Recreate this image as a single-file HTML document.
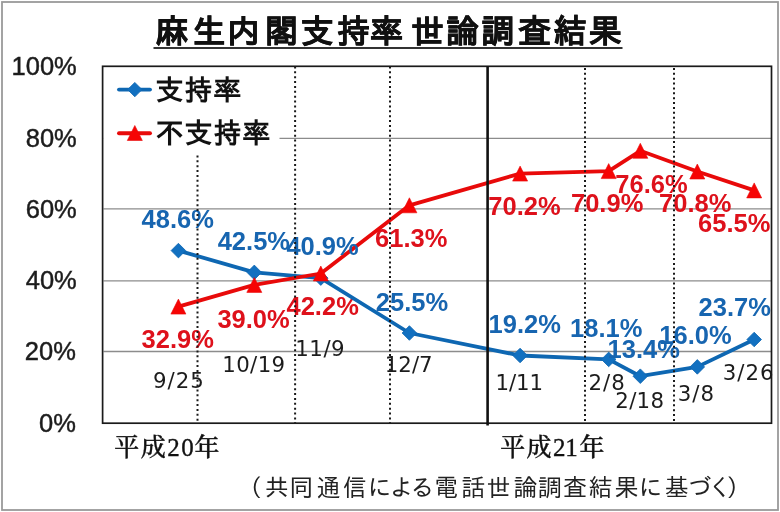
<!DOCTYPE html><html><head><meta charset="utf-8"><style>html,body{margin:0;padding:0;background:#fff}svg{display:block}.lab{font-family:"Liberation Sans",Arial,sans-serif;font-weight:bold;font-size:25.5px}.dt{font-family:"DejaVu Sans",sans-serif;font-size:21.3px;fill:#1c1c1c;letter-spacing:1px}.ax{font-family:"Liberation Sans",Arial,sans-serif;font-size:25.5px;fill:#1c1c1c;stroke:#1c1c1c;stroke-width:0.45px}.mc{font-family:"Liberation Serif","Noto Serif CJK JP","Noto Serif CJK SC",serif;font-weight:500;font-size:25px;stroke:#111;stroke-width:0.35px}.jp{font-family:"Liberation Sans","IPAGothic","Noto Sans CJK JP",sans-serif}</style></head><body>
<svg width="780" height="512" viewBox="0 0 780 512">
<rect x="0" y="0" width="780" height="512" fill="#fff"/>
<rect x="2" y="2" width="776" height="508" fill="none" stroke="#9a9a9a" stroke-width="1.8"/>
<line x1="103.5" y1="138.3" x2="771" y2="138.3" stroke="#8c8c8c" stroke-width="1.3"/>
<line x1="103.5" y1="208.8" x2="771" y2="208.8" stroke="#8c8c8c" stroke-width="1.3"/>
<line x1="103.5" y1="280.9" x2="771" y2="280.9" stroke="#8c8c8c" stroke-width="1.3"/>
<line x1="103.5" y1="351.5" x2="771" y2="351.5" stroke="#8c8c8c" stroke-width="1.3"/>
<rect x="103.3" y="67.2" width="176.2" height="87" fill="#fff"/>
<text id="title" x="155.5 192.6 226.9 264.9 300.7 337 370.2 405 411 446.2 481.6 518 553.4 588.8" y="43" class="jp" style="font-size:33px;font-weight:bold" fill="#111" stroke="#111" stroke-width="0.4">麻生内閣支持率 世論調査結果</text>
<line x1="153.5" y1="48" x2="622.5" y2="48" stroke="#333" stroke-width="1.8"/>
<line x1="119" y1="89.6" x2="150" y2="89.6" stroke="#0e67b2" stroke-width="3.9" stroke-linecap="round"/>
<path d="M134.8 82.4 L142 89.6 L134.8 96.8 L127.6 89.6Z" fill="#1270c0" stroke="#0e67b2" stroke-width="0.8"/>
<line x1="119" y1="133.3" x2="150" y2="133.3" stroke="#e80a0a" stroke-width="3.9" stroke-linecap="round"/>
<path d="M134.8 125.5 L142.3 140.5 L127.3 140.5Z" fill="#f60404" stroke="#e80a0a" stroke-width="0.6"/>
<text id="lg1" x="155.5" y="100" class="jp" style="font-size:28px;font-weight:bold;letter-spacing:1px" fill="#111">支持率</text>
<text id="lg2" x="155.5" y="143" class="jp" style="font-size:28px;font-weight:bold;letter-spacing:1px" fill="#111">不支持率</text>
<text id="y0" x="76.8" y="75.1" class="ax" text-anchor="end">100%</text>
<text id="y1" x="76.8" y="146.5" class="ax" text-anchor="end">80%</text>
<text id="y2" x="76.8" y="218.0" class="ax" text-anchor="end">60%</text>
<text id="y3" x="76.8" y="289.3" class="ax" text-anchor="end">40%</text>
<text id="y4" x="75.9" y="360.1" class="ax" text-anchor="end">20%</text>
<text id="y5" x="75.9" y="432" class="ax" text-anchor="end">0%</text>
<text id="xa1" x="114.2 140.7 167.3 181.3 194.5" y="455.7" class="mc" fill="#111">平成20年</text>
<text id="xa2" x="500.2 526.4 553 565.3 579.5" y="455.7" class="mc" fill="#111">平成21年</text>
<text id="fn" x="238.1 264.9 289 316.2 342.8 367.5 389.7 410.2 434.3 461.2 486.8 513.5 537.7 562.8 588.5 614.8 638.4 664.5 688 708.1 726.5" y="496" class="jp" style="font-size:24px" fill="#222">（共同通信による電話世論調査結果に基づく）</text>
<text id="r0" x="141.6" y="347.7" class="lab" fill="#de111b">32.9%</text>
<text id="r1" x="217.4" y="328.4" class="lab" fill="#de111b">39.0%</text>
<text id="r2" x="286.5" y="315.3" class="lab" fill="#de111b">42.2%</text>
<text id="r3" x="375.1" y="247.2" class="lab" fill="#de111b">61.3%</text>
<text id="r4" x="488.3" y="215.4" class="lab" fill="#de111b">70.2%</text>
<text id="r5" x="571.0" y="212.3" class="lab" fill="#de111b">70.9%</text>
<text id="r6" x="615.3" y="192.6" class="lab" fill="#de111b">76.6%</text>
<text id="r7" x="659.1" y="211.7" class="lab" fill="#de111b">70.8%</text>
<text id="r8" x="698.1" y="232.1" class="lab" fill="#de111b">65.5%</text>
<polyline points="178.4,250.6 254.3,272.4 320.8,278.1 409.4,333.0 520.1,355.5 608.7,359.4 640.3,376.2 697.3,366.9 754.2,339.5" fill="none" stroke="#0e67b2" stroke-width="3.8" stroke-linejoin="round"/>
<path d="M178.4 243.3 L185.7 250.6 L178.4 257.9 L171.1 250.6Z" fill="#1270c0" stroke="#0e67b2" stroke-width="0.8"/>
<path d="M254.3 265.1 L261.6 272.4 L254.3 279.7 L247.0 272.4Z" fill="#1270c0" stroke="#0e67b2" stroke-width="0.8"/>
<path d="M320.8 270.8 L328.1 278.1 L320.8 285.4 L313.5 278.1Z" fill="#1270c0" stroke="#0e67b2" stroke-width="0.8"/>
<path d="M409.4 325.7 L416.7 333.0 L409.4 340.3 L402.1 333.0Z" fill="#1270c0" stroke="#0e67b2" stroke-width="0.8"/>
<path d="M520.1 348.2 L527.4 355.5 L520.1 362.8 L512.8 355.5Z" fill="#1270c0" stroke="#0e67b2" stroke-width="0.8"/>
<path d="M608.7 352.1 L616.0 359.4 L608.7 366.7 L601.4 359.4Z" fill="#1270c0" stroke="#0e67b2" stroke-width="0.8"/>
<path d="M640.3 368.9 L647.6 376.2 L640.3 383.5 L633.0 376.2Z" fill="#1270c0" stroke="#0e67b2" stroke-width="0.8"/>
<path d="M697.3 359.6 L704.6 366.9 L697.3 374.2 L690.0 366.9Z" fill="#1270c0" stroke="#0e67b2" stroke-width="0.8"/>
<path d="M754.2 332.2 L761.5 339.5 L754.2 346.8 L746.9 339.5Z" fill="#1270c0" stroke="#0e67b2" stroke-width="0.8"/>
<polyline points="178.4,306.6 254.3,284.9 320.8,273.5 409.4,205.3 520.1,173.6 608.7,171.1 640.3,150.8 697.3,171.5 754.2,190.4" fill="none" stroke="#e80a0a" stroke-width="3.8" stroke-linejoin="round"/>
<path d="M178.4 299.1 L185.9 314.1 L170.9 314.1Z" fill="#f60404" stroke="#e80a0a" stroke-width="0.6"/>
<path d="M254.3 277.4 L261.8 292.4 L246.8 292.4Z" fill="#f60404" stroke="#e80a0a" stroke-width="0.6"/>
<path d="M320.8 266.0 L328.3 281.0 L313.3 281.0Z" fill="#f60404" stroke="#e80a0a" stroke-width="0.6"/>
<path d="M409.4 197.8 L416.9 212.8 L401.9 212.8Z" fill="#f60404" stroke="#e80a0a" stroke-width="0.6"/>
<path d="M520.1 166.1 L527.6 181.1 L512.6 181.1Z" fill="#f60404" stroke="#e80a0a" stroke-width="0.6"/>
<path d="M608.7 163.6 L616.2 178.6 L601.2 178.6Z" fill="#f60404" stroke="#e80a0a" stroke-width="0.6"/>
<path d="M640.3 143.3 L647.8 158.3 L632.8 158.3Z" fill="#f60404" stroke="#e80a0a" stroke-width="0.6"/>
<path d="M697.3 164.0 L704.8 179.0 L689.8 179.0Z" fill="#f60404" stroke="#e80a0a" stroke-width="0.6"/>
<path d="M754.2 182.9 L761.7 197.9 L746.7 197.9Z" fill="#f60404" stroke="#e80a0a" stroke-width="0.6"/>
<text id="b0" x="141.6" y="227.9" class="lab" fill="#1765b0">48.6%</text>
<text id="b1" x="217.7" y="249.5" class="lab" fill="#1765b0">42.5%</text>
<text id="b2" x="286.4" y="255.3" class="lab" fill="#1765b0">40.9%</text>
<text id="b3" x="375.8" y="310.8" class="lab" fill="#1765b0">25.5%</text>
<text id="b4" x="488.6" y="332.9" class="lab" fill="#1765b0">19.2%</text>
<text id="b5" x="570.1" y="336.5" class="lab" fill="#1765b0">18.1%</text>
<text id="b6" x="607.6" y="357.5" class="lab" fill="#1765b0">13.4%</text>
<text id="b7" x="659.3" y="344.3" class="lab" fill="#1765b0">16.0%</text>
<text id="b8" x="698.6" y="316.3" class="lab" fill="#1765b0">23.7%</text>
<text id="d0" x="153.0" y="387.7" class="dt" style="letter-spacing:1px">9/25</text>
<text id="d1" x="222.2" y="372.3" class="dt" style="letter-spacing:0.4px">10/19</text>
<text id="d2" x="295.3" y="355.6" class="dt" style="letter-spacing:0.5px">11/9</text>
<text id="d3" x="384.8" y="371.9" class="dt" style="letter-spacing:0.0px">12/7</text>
<text id="d4" x="495.5" y="390.4" class="dt" style="letter-spacing:-0.1px">1/11</text>
<text id="d5" x="588.5" y="390" class="dt" style="letter-spacing:1px">2/8</text>
<text id="d6" x="615.3" y="407.5" class="dt" style="letter-spacing:0.3px">2/18</text>
<text id="d7" x="677.8" y="401.3" class="dt" style="letter-spacing:1px">3/8</text>
<text id="d8" x="722.8" y="380" class="dt" style="letter-spacing:1px">3/26</text>
<rect x="102.6" y="66.3" width="668.9" height="356.9" fill="none" stroke="#1a1a1a" stroke-width="1.7"/>
<line x1="197.5" y1="155.4" x2="197.5" y2="423" stroke="#1a1a1a" stroke-width="2" stroke-dasharray="2 2.875"/>
<line x1="295.1" y1="66.4" x2="295.1" y2="423" stroke="#1a1a1a" stroke-width="2" stroke-dasharray="2 2.875"/>
<line x1="390" y1="66.4" x2="390" y2="423" stroke="#1a1a1a" stroke-width="2" stroke-dasharray="2 2.875"/>
<line x1="585" y1="67.9" x2="585" y2="423" stroke="#1a1a1a" stroke-width="2" stroke-dasharray="2 2.875"/>
<line x1="674" y1="67.9" x2="674" y2="423" stroke="#1a1a1a" stroke-width="2" stroke-dasharray="2 2.875"/>
<line x1="487.6" y1="66.3" x2="487.6" y2="425.5" stroke="#111" stroke-width="2.6"/>
</svg></body></html>
